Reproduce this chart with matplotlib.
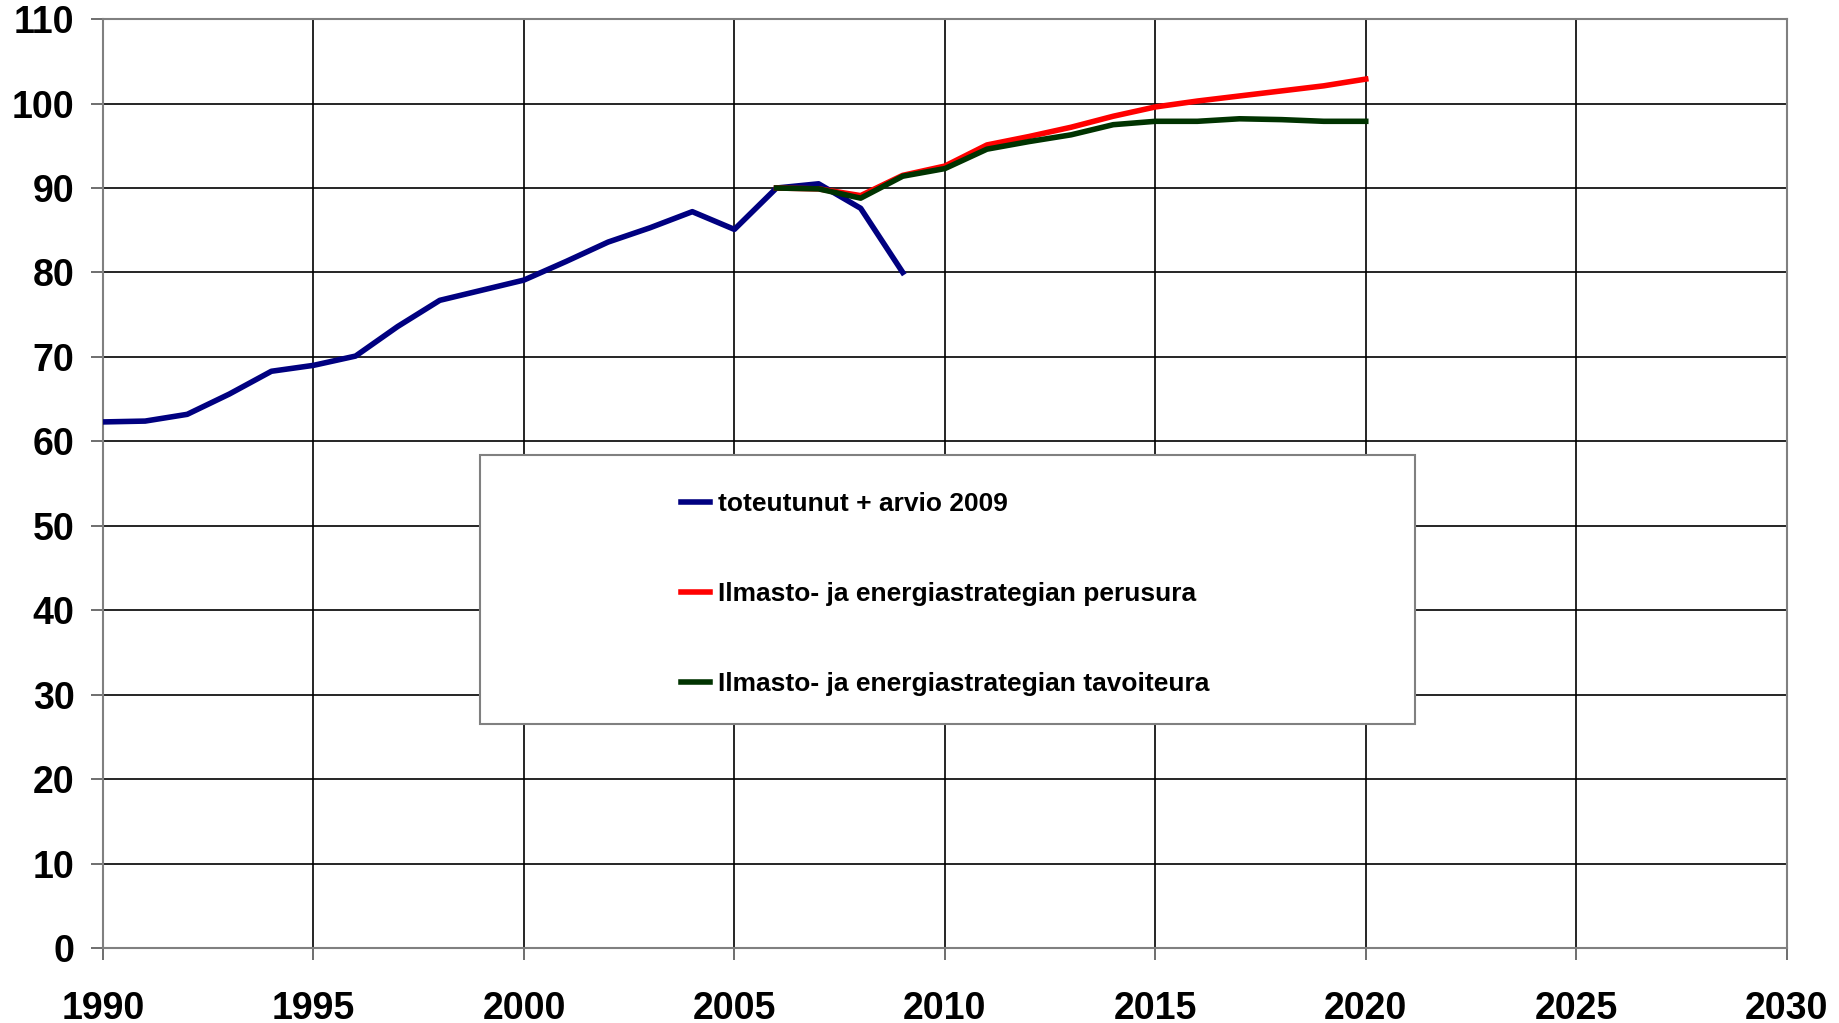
import matplotlib
matplotlib.use('Agg')
from matplotlib import pyplot as plt
from matplotlib.patches import Rectangle

plt.rcParams['font.family'] = ['Liberation Sans', 'DejaVu Sans']
plt.rcParams['font.weight'] = 'bold'

# toteutunut + arvio 2009
years_real = list(range(1990, 2010))
real = [62.3, 62.4, 63.2, 65.6, 68.3, 69.0, 70.1, 73.6, 76.7, 77.9,
        79.1, 81.3, 83.6, 85.3, 87.2, 85.1, 90.0, 90.5, 87.6, 80.0]

# skenaariot 2006-2020
years_sc = list(range(2006, 2021))
perus = [90.0, 89.9, 89.1, 91.5, 92.6, 95.1, 96.1, 97.2, 98.5, 99.6,
         100.3, 100.9, 101.5, 102.1, 102.9]
tavoite = [90.0, 89.9, 88.8, 91.4, 92.3, 94.6, 95.5, 96.3, 97.5, 97.9,
           97.9, 98.2, 98.1, 97.9, 97.9]

labels = ['toteutunut + arvio 2009',
          'Ilmasto- ja energiastrategian perusura',
          'Ilmasto- ja energiastrategian tavoiteura']

fig = plt.figure(figsize=(18.4, 10.23), dpi=100)
ax = fig.add_axes([0.056, 0.0733, 0.915, 0.908])

l1, = ax.plot(years_real, real, color='#000080', lw=4, zorder=3)
l2, = ax.plot(years_sc, perus, color='#ff0000', lw=4, zorder=3)
l3, = ax.plot(years_sc, tavoite, color='#003300', lw=4, zorder=4)

ax.set_xlim(1990, 2030)
ax.set_ylim(0, 110)
ax.set_xticks(range(1990, 2031, 5))
ax.set_yticks(range(0, 111, 10))
ax.grid(True, color='black', lw=1.2)
ax.set_axisbelow(True)
for s in ax.spines.values():
    s.set_color('#808080')
    s.set_linewidth(1.5)
ax.tick_params(axis='x', length=8.6, width=1.2, color='#555555', pad=22, labelsize=27)
ax.tick_params(axis='y', length=8.6, width=1.2, color='#555555', pad=12, labelsize=27)
for t in ax.get_xticklabels() + ax.get_yticklabels():
    t.set_fontweight('bold')

# legend box
box = Rectangle((0.2609, 0.2923), 0.508, 0.263, transform=fig.transFigure,
                facecolor='white', edgecolor='#808080', lw=1.5, zorder=5)
fig.patches.append(box)
leg = fig.legend([l1, l2, l3], labels, loc='upper left',
                 bbox_to_anchor=(0.357, 0.542), frameon=False,
                 handlelength=1.1, handletextpad=0.3, labelspacing=2.5,
                 prop={'weight': 'bold', 'size': 19})
leg.set_zorder(6)

fig.savefig('out.png', dpi=100, facecolor='white')
